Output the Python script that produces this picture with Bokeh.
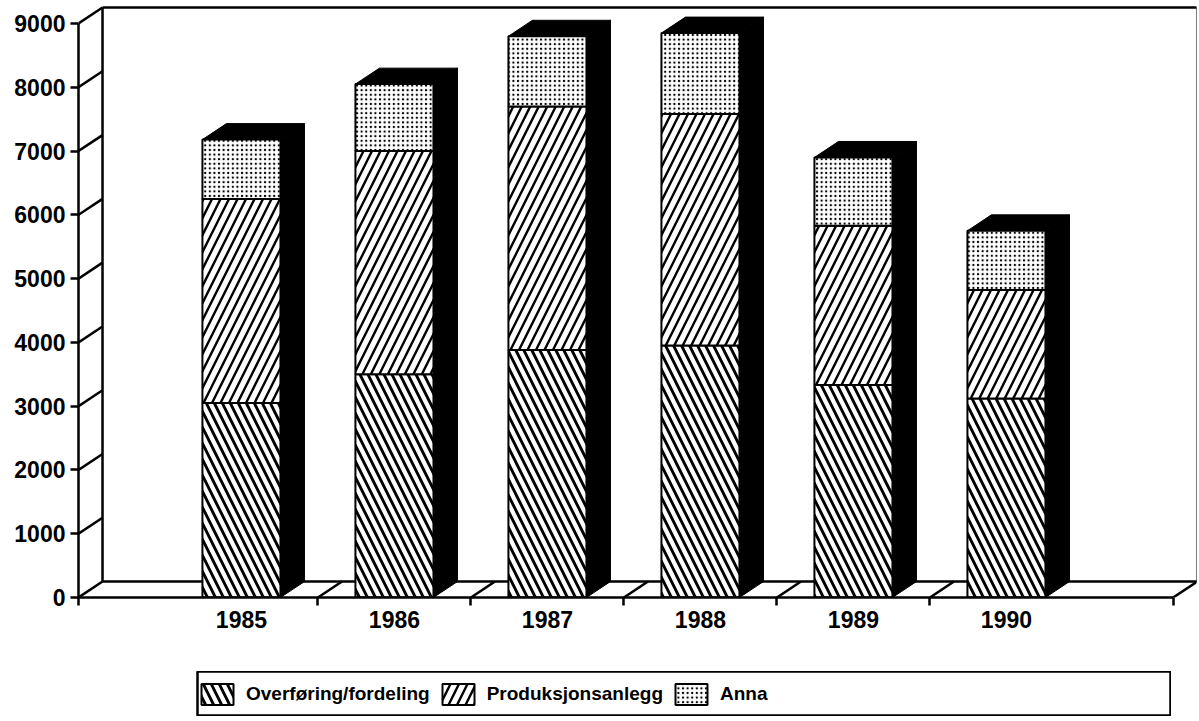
from bokeh.plotting import figure
from bokeh.models import FixedTicker, Range1d, Legend, LegendItem, ColumnDataSource
from bokeh.layouts import column
from bokeh.embed import file_html
from bokeh.resources import INLINE

# ---- data ----
years = ["1985", "1986", "1987", "1988", "1989", "1990"]
overforing = [3050, 3500, 3880, 3950, 3330, 3120]
produksjon = [3200, 3500, 3820, 3630, 2500, 1700]
anna = [930, 1050, 1100, 1270, 1070, 930]
series_names = ["Overføring/fordeling", "Produksjonsanlegg", "Anna"]
y_ticks = [0, 1000, 2000, 3000, 4000, 5000, 6000, 7000, 8000, 9000]

# ---- geometry (positions/styles) ----
X0, X1 = -0.065, 7.09       # front axis extent (category units)
DX, DY = 0.157, 250         # 3D depth offset
BAR_W = 0.51
FONT = "Liberation Sans"
FRAME_W, FRAME_H = 1118, 593
BORDER_L, BORDER_R, BORDER_T, BORDER_B = 78, 1, 4, 52

xs = [i + 1 for i in range(len(years))]
b1 = [0] * len(years)
t1 = overforing
t2 = [a + b for a, b in zip(overforing, produksjon)]
t3 = [a + b for a, b in zip(t2, anna)]
left = [x - BAR_W / 2 for x in xs]
right = [x + BAR_W / 2 for x in xs]
ymax_tick = y_ticks[-1]

p = figure(frame_width=FRAME_W, frame_height=FRAME_H, min_border_left=BORDER_L,
           min_border_right=BORDER_R, min_border_top=BORDER_T, min_border_bottom=BORDER_B,
           x_range=Range1d(X0, X0 + FRAME_W / 153), y_range=Range1d(0, FRAME_H / 0.06378),
           output_backend="svg", toolbar_location=None)
p.outline_line_color = None
p.xgrid.visible = False
p.ygrid.visible = False
p.background_fill_color = "white"
p.border_fill_color = "white"

LW = 2.5
# back wall and floor
bx0, bx1 = X0 + DX, X1 + DX
p.segment(x0=[bx0, bx0, bx1, bx0], y0=[DY, ymax_tick + DY, ymax_tick + DY, DY],
          x1=[bx0, bx1, bx1, bx1], y1=[ymax_tick + DY, ymax_tick + DY, DY, DY],
          line_color="black", line_width=LW)
# side-wall diagonals at each y tick
p.segment(x0=[X0] * len(y_ticks), y0=y_ticks, x1=[bx0] * len(y_ticks),
          y1=[v + DY for v in y_ticks], line_color="black", line_width=LW)
# floor diagonals at category boundaries and end
bounds = [x + 0.5 for x in xs[:-1]] + [X1]
p.segment(x0=bounds, y0=[0] * len(bounds), x1=[b + DX for b in bounds],
          y1=[DY] * len(bounds), line_color="black", line_width=LW)

# bar side and top faces (solid black)
side_xs = [[r, r + DX, r + DX, r] for r in right]
side_ys = [[0, DY, t + DY, t] for t in t3]
top_xs = [[l, l + DX, r + DX, r] for l, r in zip(left, right)]
top_ys = [[t, t + DY, t + DY, t] for t in t3]
p.patches(xs=side_xs, ys=side_ys, fill_color="black", line_color="black", line_width=1)
p.patches(xs=top_xs, ys=top_ys, fill_color="black", line_color="black", line_width=1)

styles = [
    dict(hatch_pattern="\\", hatch_scale=16, hatch_weight=2.9),
    dict(hatch_pattern="/", hatch_scale=17, hatch_weight=2.4),
    dict(hatch_pattern=".", hatch_scale=4.6, hatch_weight=1.5),
]
src = ColumnDataSource(dict(left=left, right=right, b1=b1, t1=t1, t2=t2, t3=t3))
p.quad(left="left", right="right", bottom="b1", top="t1", source=src,
       fill_color="white", line_color="black", line_width=2, hatch_color="black", **styles[0])
p.quad(left="left", right="right", bottom="t1", top="t2", source=src,
       fill_color="white", line_color="black", line_width=2, hatch_color="black", **styles[1])
p.quad(left="left", right="right", bottom="t2", top="t3", source=src,
       fill_color="white", line_color="black", line_width=2, hatch_color="black", **styles[2])

# y axis
ya = p.yaxis[0]
ya.ticker = FixedTicker(ticks=y_ticks)
ya.bounds = (0, ymax_tick)
ya.axis_line_width = LW
ya.major_tick_line_width = LW
ya.major_tick_out = 8
ya.major_tick_in = 0
ya.minor_tick_line_color = None
ya.major_label_standoff = 5
ya.major_label_text_font = FONT
ya.major_label_text_font_size = "23px"
ya.major_label_text_font_style = "bold"
ya.major_label_text_color = "black"

# x axis
xa = p.xaxis[0]
xa.ticker = FixedTicker(ticks=xs, minor_ticks=[X0] + bounds)
xa.major_label_overrides = {x: y for x, y in zip(xs, years)}
xa.bounds = (X0, X1)
xa.axis_line_width = LW
xa.major_tick_line_color = None
xa.major_tick_out = 0
xa.major_tick_in = 0
xa.minor_tick_out = 8
xa.minor_tick_in = 0
xa.minor_tick_line_width = LW
xa.major_label_standoff = 5
xa.major_label_text_font = FONT
xa.major_label_text_font_size = "23px"
xa.major_label_text_font_style = "bold"
xa.major_label_text_color = "black"

# legend in a boxed strip (frame aligned by the column layout, so compensate borders)
LEG_LEFT, LEG_RIGHT = 197, 1170
lg = figure(width=LEG_RIGHT - LEG_LEFT + BORDER_L + BORDER_R, height=45,
            x_range=Range1d(0, 1), y_range=Range1d(0, 1),
            output_backend="svg", toolbar_location=None, min_border=0,
            min_border_left=BORDER_L, min_border_right=BORDER_R,
            margin=(22, 0, 0, LEG_LEFT - BORDER_L))
lg.axis.visible = False
lg.grid.visible = False
lg.outline_line_color = "black"
lg.outline_line_width = 2.5
items = []
for name, st in zip(series_names, styles):
    r = lg.quad(left=[5], right=[6], bottom=[5], top=[6], fill_color="white",
                line_color="black", line_width=2, hatch_color="black", **st)
    items.append(LegendItem(label=name, renderers=[r]))
leg = Legend(items=items, orientation="horizontal", location="left",
             border_line_color=None, background_fill_alpha=0, margin=0, padding=12,
             glyph_width=40, glyph_height=26, spacing=8, label_standoff=9,
             label_text_font=FONT, label_text_font_size="19px",
             label_text_font_style="bold", label_text_color="black")
lg.add_layout(leg, "center")

layout = column(p, lg, spacing=0)
open("out.html", "w").write(file_html(layout, INLINE))
